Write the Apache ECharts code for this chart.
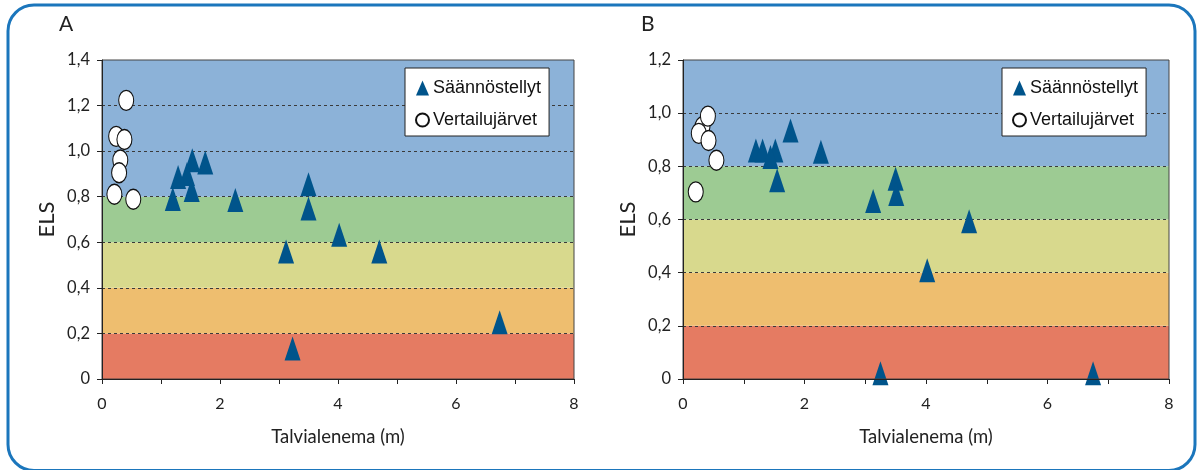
<!DOCTYPE html>
<html>
<head>
<meta charset="utf-8">
<title>ELS ja talvialenema</title>
<script src="https://cdn.jsdelivr.net/npm/echarts@6/dist/echarts.min.js"></script>
<style>
  html, body { margin: 0; padding: 0; background: #ffffff; }
  #chart { width: 1197px; height: 470px; }
</style>
</head>
<body>
<div id="chart"></div>
<script>
// Panel A: regulated lakes (triangles) and reference lakes (circles)
const regulatedDrawdownA = [1.53, 1.75, 1.44, 1.29, 1.52, 1.20, 2.26, 3.50, 3.50, 4.02, 3.12, 4.70, 6.74, 3.23];
const regulatedElsA      = [0.96, 0.95, 0.90, 0.886, 0.83, 0.79, 0.786, 0.855, 0.748, 0.633, 0.56, 0.56, 0.249, 0.134];
const referenceDrawdownA = [0.41, 0.24, 0.38, 0.31, 0.29, 0.21, 0.53];
const referenceElsA      = [1.223, 1.065, 1.051, 0.961, 0.905, 0.811, 0.789];

// Panel B
const regulatedDrawdownB = [1.77, 1.20, 1.31, 1.52, 1.44, 1.55, 2.27, 3.50, 3.51, 3.13, 4.71, 4.02, 3.25, 6.75];
const regulatedElsB      = [0.935, 0.86, 0.86, 0.86, 0.835, 0.748, 0.855, 0.753, 0.696, 0.67, 0.593, 0.409, 0.022, 0.022];
const referenceDrawdownB = [0.32, 0.41, 0.26, 0.42, 0.55, 0.21];
const referenceElsB      = [0.949, 0.989, 0.924, 0.897, 0.823, 0.704];

// Ecological status class limits (bad, poor, moderate, good, high)
const classLimits = [0, 0.2, 0.4, 0.6, 0.8];
const yMaxA = 1.4;
const yMaxB = 1.2;
const xTicks = [0, 2, 4, 6, 8];

const seriesNames = ['Säännöstellyt', 'Vertailujärvet'];
const axisTitleX = 'Talvialenema (m)';
const axisTitleY = 'ELS';
const panelLetters = ['A', 'B'];

const classColors = ['#E57B62', '#EEBE6F', '#D8D98D', '#9DCB93', '#8CB2D8'];
const markerBlue = '#00548B';
const tickFont = 'Lato, "Open Sans", sans-serif';
const legendFont = '"Liberation Sans", Arial, sans-serif';

function pairs(xs, ys) { return xs.map((x, i) => [x, ys[i]]); }

function bandAreas(yMax) {
  return classLimits.map((lo, i) => {
    const hi = i + 1 < classLimits.length ? classLimits[i + 1] : yMax;
    return [{ yAxis: lo, itemStyle: { color: classColors[i] } }, { yAxis: hi }];
  });
}

function gridLines(yMax) {
  const lines = [];
  for (let k = 1; k * 0.2 < yMax - 1e-9; k++) lines.push({ yAxis: +(k * 0.2).toFixed(1) });
  return lines;
}

const grids = [
  { left: 102, top: 60, width: 472, height: 319 },
  { left: 683, top: 60, width: 486, height: 319 }
];
const yMaxes = [yMaxA, yMaxB];

const option = {
  animation: false,
  backgroundColor: '#ffffff',
  grid: grids.map(g => Object.assign({ show: true, z: 10, borderColor: '#444', borderWidth: 1, backgroundColor: 'transparent' }, g)),
  xAxis: grids.map((g, i) => ({
    type: 'value', gridIndex: i, min: xTicks[0], max: xTicks[xTicks.length - 1], interval: 2, z: 10,
    name: axisTitleX, nameLocation: 'middle', nameGap: 49,
    nameTextStyle: { fontFamily: tickFont, fontSize: 18.5, color: '#222' },
    axisLine: { show: true, lineStyle: { color: '#222', width: 1 } },
    axisTick: { show: true, inside: false, length: 5, lineStyle: { color: '#222' } },
    minorTick: { show: true, splitNumber: 2, length: 5, lineStyle: { color: '#222' } },
    axisLabel: { margin: 17, fontFamily: tickFont, fontSize: 16, color: '#222' },
    splitLine: { show: false }
  })),
  yAxis: grids.map((g, i) => ({
    type: 'value', gridIndex: i, min: 0, max: yMaxes[i], interval: 0.2, z: 10,
    name: axisTitleY, nameLocation: 'middle', nameGap: 44, nameRotate: 90,
    nameTextStyle: { fontFamily: tickFont, fontSize: 22, color: '#222' },
    axisLine: { show: true, lineStyle: { color: '#222', width: 1 } },
    axisTick: { show: true, inside: false, length: 5, lineStyle: { color: '#222' } },
    axisLabel: {
      margin: 12, fontFamily: tickFont, fontSize: 16.5, color: '#222',
      formatter: v => v === 0 ? '0' : v.toFixed(1).replace('.', ',')
    },
    splitLine: { show: false }
  })),
  legend: [
    { left: 405, top: 68 },
    { left: 1002, top: 68 }
  ].map(pos => Object.assign({
    orient: 'vertical',
    data: [{ name: seriesNames[0], icon: 'triangle' }, { name: seriesNames[1], icon: 'circle' }],
    backgroundColor: '#ffffff', borderColor: '#222', borderWidth: 1, borderRadius: 0,
    padding: [11, 8, 7, 10], itemGap: 14, itemWidth: 13, itemHeight: 15,
    selectedMode: false,
    textStyle: { fontFamily: legendFont, fontSize: 18, color: '#111', padding: [0, 0, 0, -1] }
  }, pos)),
  graphic: [
    {
      type: 'rect', silent: true, z: 0,
      shape: { x: 8, y: 5, width: 1187, height: 465.5, r: 26 },
      style: { fill: 'none', stroke: '#1B76BC', lineWidth: 3 }
    },
    { type: 'text', left: 59, top: 14, silent: true,
      style: { text: panelLetters[0], font: '21px ' + tickFont, fill: '#222' } },
    { type: 'text', left: 641, top: 14, silent: true,
      style: { text: panelLetters[1], font: '21px ' + tickFont, fill: '#222' } }
  ],
  series: []
};

// Coloured status bands and dashed class-limit lines for each panel
[0, 1].forEach(i => {
  option.series.push({
    type: 'scatter', xAxisIndex: i, yAxisIndex: i, data: [], silent: true,
    markArea: { silent: true, z: 1, data: bandAreas(yMaxes[i]) },
    markLine: {
      silent: true, z: 2, symbol: ['none', 'none'], label: { show: false },
      lineStyle: { color: '#3a3a3a', type: [3, 3], width: 1 },
      data: gridLines(yMaxes[i])
    }
  });
});

const panelData = [
  { reg: pairs(regulatedDrawdownA, regulatedElsA), ref: pairs(referenceDrawdownA, referenceElsA) },
  { reg: pairs(regulatedDrawdownB, regulatedElsB), ref: pairs(referenceDrawdownB, referenceElsB) }
];

panelData.forEach((d, i) => {
  option.series.push({
    name: seriesNames[0], type: 'scatter', xAxisIndex: i, yAxisIndex: i, z: 3,
    symbol: 'triangle', symbolSize: [16, 24],
    itemStyle: { color: markerBlue, opacity: 1 },
    data: d.reg
  });
  option.series.push({
    name: seriesNames[1], type: 'scatter', xAxisIndex: i, yAxisIndex: i, z: 4,
    symbol: 'circle', symbolSize: [15, 20],
    itemStyle: { color: '#ffffff', borderColor: '#111', borderWidth: 1.2, opacity: 1 },
    data: d.ref
  });
});

const chart = echarts.init(document.getElementById('chart'), null, { renderer: 'canvas' });
chart.setOption(option);
</script>
</body>
</html>
